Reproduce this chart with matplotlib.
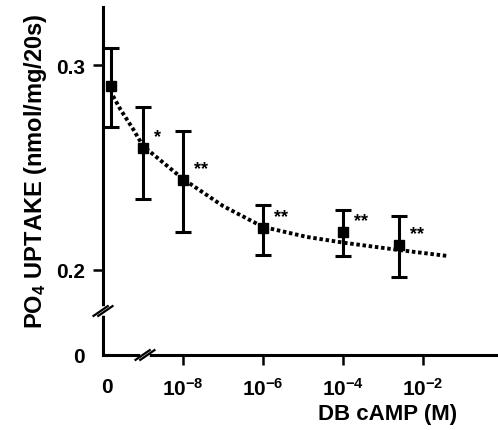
import matplotlib
matplotlib.use('Agg')
import matplotlib.pyplot as plt
import numpy as np

plt.rcParams['font.family'] = ['Liberation Sans', 'DejaVu Sans']
plt.rcParams['font.weight'] = 'bold'
plt.rcParams['mathtext.fontset'] = 'custom'
plt.rcParams['mathtext.rm'] = 'Liberation Sans:bold'
plt.rcParams['mathtext.it'] = 'Liberation Sans:bold'
plt.rcParams['mathtext.bf'] = 'Liberation Sans:bold'

# log10 of DB cAMP concentration (the "0" control is drawn at the left edge)
conc_log = [-9.8, -9.0, -8.0, -6.0, -4.0, -2.6]
uptake = [0.2898, 0.2595, 0.2440, 0.2205, 0.2185, 0.2122]
err_lo = [0.0200, 0.0250, 0.0255, 0.0132, 0.0117, 0.0156]
err_hi = [0.0185, 0.0200, 0.0238, 0.0112, 0.0108, 0.0141]
stars = ['', '*', '**', '**', '**', '**']

# fitted dotted curve
fit_log = [-9.75, -9.57, -9.25, -9.0, -8.0, -7.0, -6.0, -4.9, -3.95, -2.63, -1.38]
fit_val = [0.2849, 0.2785, 0.2688, 0.2605, 0.2444, 0.2312, 0.2210, 0.2161, 0.2132, 0.2098, 0.2068]

xticks = [-9.9, -8, -6, -4, -2]
xticklabels = ['0', '$10^{-8}$', '$10^{-6}$', '$10^{-4}$', '$10^{-2}$']
ybottom = 0.1585  # where the broken axis shows "0"
yticks = [ybottom, 0.2, 0.3]
yticklabels = ['0', '0.2', '0.3']

fig = plt.figure(figsize=(4.98, 4.31), dpi=100)
ax = fig.add_axes([103/498, 75/431, 395/498, 348/431])

ax.plot(fit_log, fit_val, color='black', lw=2.8, linestyle=(0, (0.9, 0.7)), zorder=2)
ax.errorbar(conc_log, uptake, yerr=[err_lo, err_hi], fmt='s', color='black',
            ms=7, elinewidth=2.2, capsize=6, capthick=2.2, zorder=3)
for x, y, s in zip(conc_log, uptake, stars):
    if s:
        ax.annotate(s, (x, y), xytext=(8, 2), textcoords='offset points',
                    fontsize=13, fontweight='bold', ha='left', va='bottom')

ax.set_xlim(-10, -0.125)
ax.set_ylim(ybottom, 0.3283)
ax.set_xticks(xticks)
ax.set_xticklabels(xticklabels)
ax.set_yticks(yticks)
ax.set_yticklabels(yticklabels)
ax.tick_params(axis='both', direction='out', length=7, width=1.8, labelsize=15)
ax.tick_params(axis='x', pad=9)
ax.tick_params(axis='y', pad=6)
ax.xaxis.get_major_ticks()[0].tick1line.set_visible(False)
ax.yaxis.get_major_ticks()[0].tick1line.set_visible(False)

for side in ['top', 'right']:
    ax.spines[side].set_visible(False)
for side in ['left', 'bottom']:
    ax.spines[side].set_linewidth(2.2)

ax.set_ylabel('PO$_4$ UPTAKE (nmol/mg/20s)', fontsize=17, fontweight='bold')
ax.yaxis.set_label_coords(-0.137, 0.53)
ax.set_xlabel('DB cAMP (M)', fontsize=16, fontweight='bold')
ax.xaxis.set_label_coords(0.72, -0.138)

# axis break marks
def brk(xc, yc):
    for d in (-0.006, 0.006):
        ax.plot([xc - 0.018 + d, xc + 0.018 + d], [yc - 0.014, yc + 0.014],
                transform=ax.transAxes, color='black', lw=1.6, clip_on=False, zorder=5)

yb = (0.1585 + (356 - 312) / 2050 - ybottom) / (0.3283 - ybottom)
ax.plot([0, 0], [yb - 0.006, yb + 0.006], transform=ax.transAxes, color='white',
        lw=4, clip_on=False, zorder=4)
brk(0.0, yb)
xb = (145 - 103) / 395
ax.plot([xb - 0.006, xb + 0.006], [0, 0], transform=ax.transAxes, color='white',
        lw=4, clip_on=False, zorder=4)
brk(xb, 0.0)

fig.savefig('out.png', dpi=100)
